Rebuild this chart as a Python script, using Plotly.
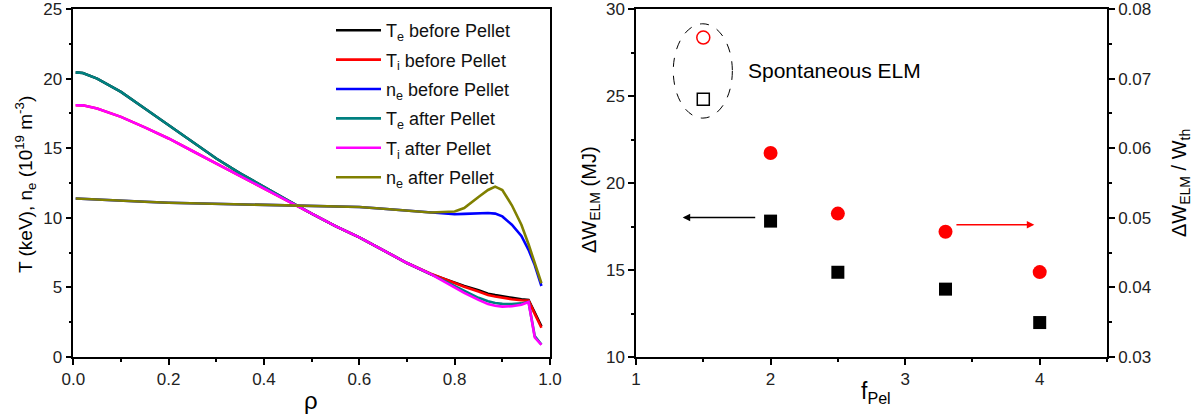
import plotly.graph_objects as go

# ---------------- Left panel data ----------------
rho = [0.005, 0.02, 0.05, 0.1, 0.15, 0.2, 0.25, 0.3, 0.35, 0.4, 0.45, 0.5, 0.55, 0.6,
       0.65, 0.7, 0.75, 0.8, 0.82, 0.85, 0.87, 0.885, 0.9, 0.92, 0.94, 0.955, 0.968, 0.982]

te_before = [20.45, 20.4, 20.0, 19.04, 17.85, 16.65, 15.45, 14.26, 13.2, 12.2, 11.25, 10.3, 9.4, 8.6,
             7.65, 6.75, 5.95, 5.35, 5.1, 4.8, 4.55, 4.45, 4.35, 4.25, 4.15, 4.1, 3.2, 2.2]
ti_before = [18.09, 18.08, 17.85, 17.25, 16.5, 15.7, 14.8, 13.9, 13.0, 12.1, 11.2, 10.3, 9.4, 8.6,
             7.65, 6.75, 5.98, 5.3, 5.05, 4.7, 4.45, 4.35, 4.25, 4.15, 4.08, 4.05, 3.1, 2.1]
ne_before = [11.39, 11.37, 11.33, 11.27, 11.15, 11.08, 11.04, 11.0, 10.98, 10.96, 10.93, 10.88, 10.84, 10.78,
             10.65, 10.5, 10.36, 10.25, 10.28, 10.35, 10.35, 10.3, 10.1, 9.5, 8.7, 7.7, 6.6, 5.1]
te_after = [20.45, 20.4, 20.0, 19.04, 17.85, 16.65, 15.45, 14.26, 13.2, 12.2, 11.25, 10.3, 9.4, 8.6,
            7.65, 6.75, 5.95, 5.1, 4.75, 4.25, 4.0, 3.88, 3.82, 3.8, 3.85, 3.95, 1.5, 0.9]
ti_after = [18.09, 18.08, 17.85, 17.25, 16.5, 15.7, 14.8, 13.9, 13.0, 12.1, 11.2, 10.3, 9.4, 8.6,
            7.65, 6.75, 5.95, 5.0, 4.6, 4.1, 3.8, 3.68, 3.62, 3.65, 3.75, 3.95, 1.4, 0.87]
ne_after = [11.39, 11.37, 11.33, 11.27, 11.15, 11.08, 11.04, 11.0, 10.98, 10.96, 10.93, 10.88, 10.84, 10.78,
            10.65, 10.5, 10.38, 10.45, 10.7, 11.5, 12.0, 12.24, 12.0, 10.9, 9.5, 8.1, 6.8, 5.3]

series_names = ["T<sub>e</sub> before Pellet", "T<sub>i</sub> before Pellet", "n<sub>e</sub> before Pellet",
                "T<sub>e</sub> after Pellet", "T<sub>i</sub> after Pellet", "n<sub>e</sub> after Pellet"]
series_values = [te_before, ti_before, ne_before, te_after, ti_after, ne_after]
series_colors = ["#000000", "#FF0000", "#0000FF", "#008080", "#FF00FF", "#808000"]

# ---------------- Right panel data ----------------
f_pel = [2, 2.5, 3.3, 4]
dW_elm = [17.81, 14.87, 13.9, 11.98]
dW_ratio = [0.0593, 0.0506, 0.0480, 0.0422]
f_spont = [1.5]
dW_spont = [24.81]
ratio_spont = [0.0759]

FONT = "Arial, Liberation Sans, sans-serif"
W, H = 1203, 416
T_M, B_M = 9, 59
PH = H - T_M - B_M

def py(p):  # pixel y -> paper y
    return (H - B_M - p) / PH

fig = go.Figure()

for i, (name, vals, col) in enumerate(zip(series_names, series_values, series_colors)):
    fig.add_trace(go.Scatter(x=rho, y=vals, mode="lines", name=name, legendgroup=f"g{i}",
                             line=dict(color=col, width=2.6), xaxis="x", yaxis="y"))

fig.add_trace(go.Scatter(x=f_pel, y=dW_elm, mode="markers", showlegend=False,
                         marker=dict(symbol="square", size=13, color="black"),
                         xaxis="x2", yaxis="y2"))
fig.add_trace(go.Scatter(x=f_spont, y=dW_spont, mode="markers", showlegend=False,
                         marker=dict(symbol="square-open", size=12, color="black",
                                     line=dict(width=1.5, color="black")),
                         xaxis="x2", yaxis="y2"))
fig.add_trace(go.Scatter(x=f_pel, y=dW_ratio, mode="markers", showlegend=False,
                         marker=dict(symbol="circle", size=14, color="#FF0000"),
                         xaxis="x2", yaxis="y3"))
fig.add_trace(go.Scatter(x=f_spont, y=ratio_spont, mode="markers", showlegend=False,
                         marker=dict(symbol="circle-open", size=13, color="#FF0000",
                                     line=dict(width=1.5, color="#FF0000")),
                         xaxis="x2", yaxis="y3"))

axis_common = dict(showline=True, linecolor="black", linewidth=1.5, ticks="outside",
                   ticklen=6, tickwidth=1.5, tickcolor="black", showgrid=False, zeroline=False,
                   automargin=False, ticklabeloverflow="allow",
                   tickfont=dict(family=FONT, size=17, color="#222"))

fig.update_layout(
    template="none",
    width=W, height=H,
    margin=dict(l=0, r=0, t=T_M, b=B_M, autoexpand=False),
    paper_bgcolor="white", plot_bgcolor="white",
    font=dict(family=FONT, color="black"),
    xaxis=dict(domain=[73.3 / W, 550 / W], range=[0, 1.0], dtick=0.2, tickformat=".1f",
               mirror=True, anchor="y",
               minor=dict(dtick=0.1, ticks="outside", ticklen=3, tickcolor="black"),
               **axis_common),
    yaxis=dict(domain=[0, 1], range=[0, 25], dtick=5, mirror=True, anchor="x",
               minor=dict(dtick=2.5, ticks="outside", ticklen=3, tickcolor="black"),
               **axis_common),
    xaxis2=dict(domain=[636 / W, 1107 / W], range=[1, 4.5], dtick=1, mirror=True, anchor="y2",
                minor=dict(dtick=0.5, ticks="outside", ticklen=3, tickcolor="black"),
                **axis_common),
    yaxis2=dict(domain=[0, 1], range=[10, 30], dtick=5, anchor="x2",
                minor=dict(dtick=2.5, ticks="outside", ticklen=3, tickcolor="black"),
                **axis_common),
    yaxis3=dict(range=[0.03, 0.08], dtick=0.01, tickformat=".2f", overlaying="y2",
                side="right", anchor="x2",
                minor=dict(dtick=0.005, ticks="outside", ticklen=3, tickcolor="black"),
                **axis_common),
    legend=dict(x=331 / W, y=py(12), xanchor="left", yanchor="top", xref="paper", yref="paper",
                bgcolor="rgba(0,0,0,0)", font=dict(family=FONT, size=18, color="#111"),
                itemwidth=45, tracegroupgap=3),
    showlegend=True,
)

annotations = [
    dict(text="T (keV), n<sub>e</sub> (10<sup>19</sup> m<sup>-3</sup>)", x=25 / W, y=py(185),
         xanchor="center", yanchor="middle",
         xref="paper", yref="paper", textangle=-90, showarrow=False,
         font=dict(family=FONT, size=19)),
    dict(text="ρ", x=311 / W, y=py(400), xref="paper", yref="paper", showarrow=False,
         xanchor="center", yanchor="middle", font=dict(family=FONT, size=24)),
    dict(text="f<sub>Pel</sub>", x=876 / W, y=py(392), xref="paper", yref="paper", showarrow=False,
         xanchor="center", yanchor="middle", font=dict(family=FONT, size=23)),
    dict(text="ΔW<sub>ELM</sub> (MJ)", x=590 / W, y=py(200), xref="paper", yref="paper",
         xanchor="center", yanchor="middle",
         textangle=-90, showarrow=False, font=dict(family=FONT, size=20)),
    dict(text="ΔW<sub>ELM</sub> / W<sub>th</sub>", x=1180 / W, y=py(183), xref="paper", yref="paper",
         xanchor="center", yanchor="middle",
         textangle=-90, showarrow=False, font=dict(family=FONT, size=20)),
    dict(text="Spontaneous ELM", x=1.82, y=26.46, xref="x2", yref="y2", xanchor="left",
         yanchor="middle", showarrow=False, font=dict(family=FONT, size=21)),
    dict(text="", x=1.347, y=18.02, ax=1.897, ay=18.02, xref="x2", yref="y2", axref="x2", ayref="y2",
         showarrow=True, arrowhead=2, arrowsize=1, arrowwidth=1.5, arrowcolor="black"),
    dict(text="", x=3.96, y=17.6, ax=3.37, ay=17.6, xref="x2", yref="y2", axref="x2", ayref="y2",
         showarrow=True, arrowhead=2, arrowsize=1, arrowwidth=1.5, arrowcolor="#FF0000"),
]
fig.update_layout(annotations=annotations)

fig.add_shape(type="circle", xref="x2", yref="y2", x0=1.277, x1=1.716, y0=23.73, y1=29.15,
              line=dict(color="black", width=1, dash="dash"))

fig.write_html("out.html", config={"displayModeBar": False},
               post_script="document.body.style.margin='0px';")
